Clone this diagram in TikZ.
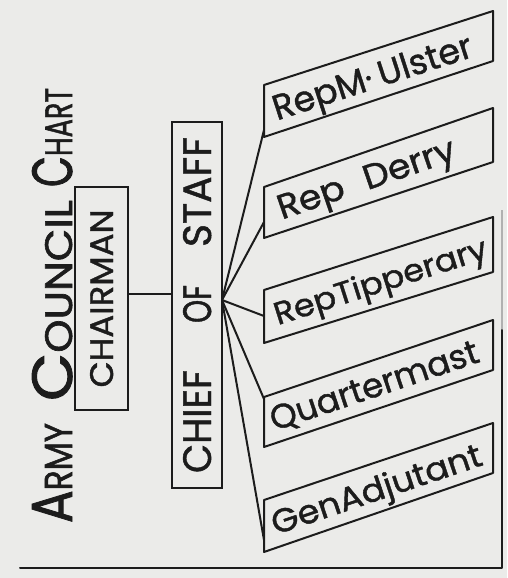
\documentclass[tikz,border=0pt]{standalone}
\usepackage{fontspec}
\setmainfont{Poppins}
\newfontfamily\hand{Poppins}[FakeBold=1.2]
\newfontfamily\handtitle{Poppins}[FakeBold=1.6]
\usetikzlibrary{calc}
\definecolor{paper}{HTML}{EBEBE9}
\definecolor{ink}{HTML}{1C1C1C}
\newcommand\tbig[1]{{\fontsize{40}{40}\selectfont #1}}
\newcommand\tsmall[1]{{\fontsize{27}{27}\selectfont #1}}
\tikzset{
  inkline/.style={draw=ink, line width=2pt, line join=round, line cap=round},
  lbl/.style={inner sep=0pt, text depth=0pt, text=ink, font=\hand},
  upbox/.style={draw=ink, line width=2pt, rotate=90, inner sep=0pt, text=ink, text depth=0pt, font=\hand},
}
\begin{document}
\begin{tikzpicture}[x=1pt,y=-1pt]
\fill[paper] (0,0) rectangle (507,578);
\useasboundingbox (0,0) rectangle (507,578);

% title
\node[lbl, rotate=90, font=\handtitle] (title) at (52,305.5)
  {\resizebox{100pt}{40pt}{\tbig{A}\tsmall{RMY}}\hspace{22pt}\resizebox{201pt}{40pt}{\tbig{C}\tsmall{OUNCIL}}\hspace{13pt}\resizebox{99pt}{40pt}{\tbig{C}\tsmall{HART}}};

% chairman and chief of staff
\node[upbox, minimum width=223pt, minimum height=53pt] (chair) at (101.5,298.5)
  {\resizebox{178pt}{23pt}{CHAIRMAN}};
\node[upbox, minimum width=366pt, minimum height=50pt] (chief) at (197,305)
  {\resizebox{103pt}{28pt}{CHIEF}\hspace{47pt}\resizebox{38pt}{28pt}{OF}\hspace{38pt}\resizebox{110pt}{28pt}{STAFF}};

\coordinate (cy) at (150,294);
\draw[inkline] (chair.south |- cy) -- (chief.north |- cy);

% slanted boxes
\foreach \n/\lt/\lb/\rt/\rb in {1/85/137/11/61, 2/187/238/108/162, 3/290/343/217/272, 4/397/447/320/370, 5/500/552/423/473}{
  \coordinate (b\n lt) at (264,\lt);
  \coordinate (b\n lb) at (264,\lb);
  \coordinate (b\n rt) at (493,\rt);
  \coordinate (b\n rb) at (493,\rb);
  \draw[inkline] (b\n lt) -- (b\n rt) -- (b\n rb) -- (b\n lb) -- cycle;
}

\node[lbl, rotate=18] (t1) at (372,76) {\resizebox{208pt}{26pt}{RepM·\hspace{2pt}Ulster}};
\node[lbl, rotate=19] (t2) at (366,178) {\resizebox{186pt}{24pt}{Rep\hspace{6pt}Derry}};
\node[lbl, rotate=17.7] (t3) at (380,280) {\resizebox{222pt}{24pt}{RepTipperary}};
\node[lbl, rotate=18.6] (t4) at (374,385) {\resizebox{218pt}{24pt}{Quartermast}};
\node[lbl, rotate=18.6] (t5) at (376,488) {\resizebox{220pt}{25pt}{GenAdjutant}};

% fan connectors
\coordinate (hub) at (222,300);
\coordinate (e1) at (264,130);
\coordinate (e2) at (264,222);
\coordinate (e3) at (264,316);
\coordinate (e4) at (264,399);
\coordinate (e5) at (264,540);
\foreach \k in {1,...,5}{\draw[inkline] (hub) -- (e\k);}

% frame lines
\coordinate (ftop) at (502,210);
\coordinate (fmid) at (502,330);
\coordinate (fbot) at (502,568);
\coordinate (fleft) at (20,568);
\draw[draw=ink!35, line width=2pt] (ftop) -- (fmid);
\draw[inkline] (fmid) -- (fbot) -- (fleft);
\end{tikzpicture}
\end{document}
